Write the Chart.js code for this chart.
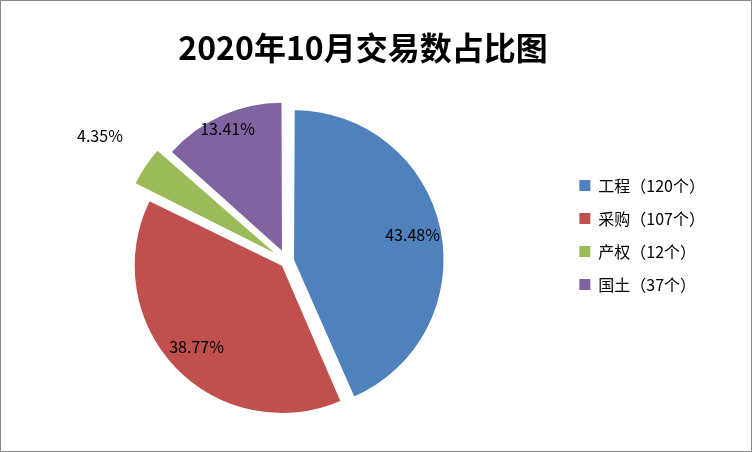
<!DOCTYPE html>
<html><head><meta charset="utf-8">
<script src="https://cdn.jsdelivr.net/npm/chart.js@4"></script>
<style>html,body{margin:0;padding:0;background:#fff}#w{position:absolute;left:0;top:0;width:750px;height:450px;border:1px solid #888}</style>
</head><body><div id="w"><canvas id="c" width="750" height="450"></canvas></div>
<script>
const categories=['工程','采购','产权','国土'];
const counts=[120,107,12,37];
const percents=['43.48%','38.77%','4.35%','13.41%'];
const colors=['#4F81BD','#C0504D','#9BBB59','#8064A2'];
const offsets=[30,26,58,46];
const labelPlugin={id:'lbl',afterDatasetsDraw(chart){
  const ctx=chart.ctx;const meta=chart.getDatasetMeta(0);
  ctx.save();ctx.font='16px "Noto Sans CJK SC", sans-serif';ctx.fillStyle='#000';ctx.textAlign='center';ctx.textBaseline='middle';
  meta.data.forEach((a,i)=>{const p=a.getProps(['x','y','startAngle','endAngle','outerRadius','innerRadius'],true);
    const mid=(p.startAngle+p.endAngle)/2;const off=offsets[i];
    const r=i===2?p.outerRadius+off+22:p.outerRadius*0.68+off;
    ctx.fillText(percents[i],p.x+Math.cos(mid)*r,p.y+Math.sin(mid)*r);});
  ctx.restore();}};
new Chart(document.getElementById('c'),{type:'pie',
 data:{labels:categories.map((c,i)=>c+'（'+counts[i]+'个）'),datasets:[{data:counts,backgroundColor:colors,borderWidth:0,offset:offsets,radius:145}]},
 options:{responsive:false,animation:false,layout:{padding:{left:10,right:36,top:28,bottom:10}},
  plugins:{title:{display:true,text:'2020年10月交易数占比图',color:'#000',font:{size:32,weight:'bold',family:'"Noto Sans CJK SC", sans-serif'},padding:{top:0,bottom:14}},
   legend:{position:'right',labels:{color:'#000',boxWidth:11,boxHeight:11,padding:17,font:{size:16,family:'"Noto Sans CJK SC", sans-serif'}}},tooltip:{enabled:false}}},
 plugins:[labelPlugin]});
</script></body></html>
